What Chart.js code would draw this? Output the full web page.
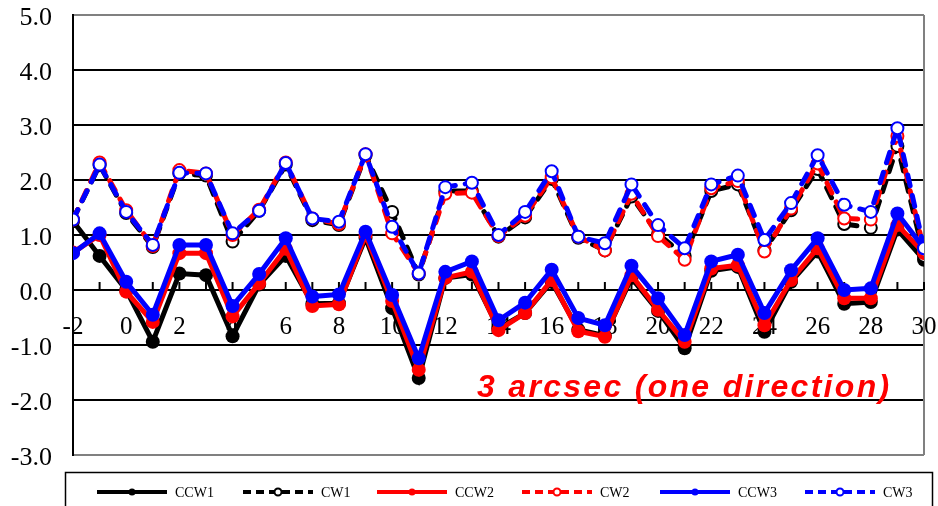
<!DOCTYPE html>
<html>
<head>
<meta charset="utf-8">
<script src="https://cdn.jsdelivr.net/npm/chart.js@4.4.1/dist/chart.umd.min.js"></script>
<style>
    html, body { margin: 0; padding: 0; background: #fff; }
    #wrap { width: 938px; height: 506px; }
</style>
</head>
<body>
<div id="wrap"><canvas id="offset-chart" width="938" height="506"></canvas></div>
<script>
// x positions of the measurements
const positions = [-2, -1, 0, 1, 2, 3, 4, 5, 6, 7, 8, 9, 10, 11, 12, 13, 14, 15, 16,
    17, 18, 19, 20, 21, 22, 23, 24, 25, 26, 27, 28, 29, 30];

const ccw1 = [1.25, 0.62, 0.00, -0.94, 0.30, 0.27, -0.84, 0.10, 0.62, -0.25, -0.24, 0.95, -0.33,
    -1.60, 0.22, 0.28, -0.70, -0.42, 0.15, -0.72, -0.83, 0.22, -0.38, -1.06, 0.35, 0.42,
    -0.76, 0.15, 0.70, -0.25, -0.22, 1.10, 0.55];
const cw1 = [1.28, 2.27, 1.40, 0.78, 2.12, 2.08, 0.88, 1.44, 2.28, 1.27, 1.18, 2.45, 1.42,
    0.28, 1.80, 1.80, 0.97, 1.32, 2.02, 0.95, 0.72, 1.70, 1.02, 0.62, 1.80, 1.92,
    0.72, 1.45, 2.20, 1.20, 1.13, 2.62, 0.62];
const ccw2 = [0.68, 1.00, -0.03, -0.58, 0.67, 0.67, -0.48, 0.12, 0.75, -0.29, -0.26, 1.00, -0.20,
    -1.45, 0.22, 0.33, -0.73, -0.42, 0.18, -0.75, -0.85, 0.27, -0.36, -0.94, 0.39, 0.45,
    -0.64, 0.18, 0.76, -0.15, -0.15, 1.18, 0.67];
const cw2 = [1.28, 2.32, 1.45, 0.80, 2.18, 2.12, 1.00, 1.46, 2.32, 1.30, 1.20, 2.47, 1.03,
    0.30, 1.75, 1.77, 0.98, 1.35, 2.05, 0.97, 0.72, 1.75, 0.98, 0.55, 1.85, 1.98,
    0.70, 1.48, 2.30, 1.30, 1.28, 2.80, 0.72];
const ccw3 = [0.67, 1.03, 0.15, -0.45, 0.82, 0.82, -0.29, 0.29, 0.94, -0.12, -0.08, 1.06, -0.09,
    -1.24, 0.33, 0.52, -0.55, -0.23, 0.37, -0.51, -0.64, 0.44, -0.15, -0.82, 0.52, 0.64,
    -0.42, 0.36, 0.94, 0.00, 0.03, 1.39, 0.76];
const cw3 = [1.28, 2.28, 1.42, 0.82, 2.13, 2.12, 1.03, 1.44, 2.31, 1.30, 1.24, 2.47, 1.15,
    0.30, 1.87, 1.95, 1.00, 1.42, 2.16, 0.97, 0.85, 1.92, 1.18, 0.76, 1.92, 2.08,
    0.91, 1.58, 2.45, 1.55, 1.42, 2.94, 0.76];

const seriesLabels = ['CCW1', 'CW1', 'CCW2', 'CW2', 'CCW3', 'CW3'];
const yTicks = [-3, -2, -1, 0, 1, 2, 3, 4, 5];
const noteText = '3 arcsec (one direction)';

const canvas = document.getElementById('offset-chart');

function toPoints(values) {
    return values.map((v, i) => ({ x: positions[i], y: v }));
}

function solidSet(label, values, color, order) {
    return {
        label: label,
        data: toPoints(values),
        borderColor: color,
        backgroundColor: color,
        borderWidth: 5,
        pointRadius: 7,
        pointBorderWidth: 0,
        pointBackgroundColor: color,
        borderJoinStyle: 'miter',
        tension: 0,
        order: order
    };
}

function dashedSet(label, values, color, order) {
    return {
        label: label,
        data: toPoints(values),
        borderColor: color,
        backgroundColor: '#fff',
        borderWidth: 5,
        borderDash: [11, 10],
        borderCapStyle: 'round',
        pointRadius: 6,
        pointBorderWidth: 2,
        pointBorderColor: color,
        pointBackgroundColor: '#fff',
        tension: 0,
        order: order
    };
}

const datasets = [
    solidSet(seriesLabels[0], ccw1, '#000000', 5),
    dashedSet(seriesLabels[1], cw1, '#000000', 4),
    solidSet(seriesLabels[2], ccw2, '#ff0000', 3),
    dashedSet(seriesLabels[3], cw2, '#ff0000', 2),
    solidSet(seriesLabels[4], ccw3, '#0000ff', 1),
    dashedSet(seriesLabels[5], cw3, '#0000ff', 0)
];

// frame, axis ticks, legend box and the red note
const decorations = {
    id: 'decorations',
    beforeDatasetsDraw(chart) {
        const ctx = chart.ctx;
        const area = chart.chartArea;
        const xs = chart.scales.x;
        const ys = chart.scales.y;
        ctx.save();
        ctx.strokeStyle = '#808080';
        ctx.lineWidth = 2;
        ctx.beginPath();
        ctx.moveTo(area.right, area.top);
        ctx.lineTo(area.right, area.bottom);
        ctx.stroke();
        // tick marks on the zero line
        const y0 = ys.getPixelForValue(0);
        ctx.strokeStyle = '#000';
        ctx.lineWidth = 2;
        for (let v = xs.min; v <= xs.max; v++) {
            const px = xs.getPixelForValue(v);
            ctx.beginPath();
            ctx.moveTo(px, y0 - 8);
            ctx.lineTo(px, y0);
            ctx.stroke();
        }
        ctx.restore();
    },
    afterDraw(chart) {
        const ctx = chart.ctx;
        ctx.save();
        // legend
        ctx.strokeStyle = '#000';
        ctx.lineWidth = 1.5;
        ctx.strokeRect(65.5, 472.5, 867, 60);
        const starts = [97, 243, 377, 522, 660, 805];
        const legendY = 492;
        chart.data.datasets.forEach((ds, i) => {
            const x0 = starts[i];
            const dashed = ds.borderDash && ds.borderDash.length;
            ctx.strokeStyle = ds.borderColor;
            ctx.lineWidth = 4;
            ctx.setLineDash(dashed ? [8, 5] : []);
            ctx.lineCap = 'butt';
            ctx.beginPath();
            ctx.moveTo(x0, legendY);
            ctx.lineTo(x0 + 70, legendY);
            ctx.stroke();
            ctx.setLineDash([]);
            ctx.beginPath();
            ctx.arc(x0 + 35, legendY, 3.5, 0, Math.PI * 2);
            if (dashed) {
                ctx.fillStyle = '#fff';
                ctx.fill();
                ctx.lineWidth = 2;
                ctx.stroke();
            } else {
                ctx.fillStyle = ds.borderColor;
                ctx.fill();
            }
            ctx.fillStyle = '#000';
            ctx.font = '14px "Liberation Serif"';
            ctx.textAlign = 'left';
            ctx.textBaseline = 'middle';
            ctx.fillText(ds.label, x0 + 78, legendY + 1);
        });
        // note
        ctx.fillStyle = '#ff0000';
        ctx.font = 'italic bold 32px "Liberation Sans"';
        ctx.letterSpacing = '2.3px';
        ctx.textAlign = 'left';
        ctx.textBaseline = 'alphabetic';
        ctx.fillText(noteText, 477, 397);
        ctx.restore();
    }
};

const offsetChart = new Chart(canvas, {
    type: 'line',
    data: { datasets: datasets },
    options: {
        responsive: false,
        animation: false,
        layout: {
            padding: { left: 0, right: 14, top: 15, bottom: 51 }
        },
        plugins: {
            legend: { display: false },
            tooltip: { enabled: false }
        },
        scales: {
            x: {
                type: 'linear',
                position: { y: 0 },
                min: -2,
                max: 30,
                afterFit(scale) {
                    scale.paddingLeft = 0;
                    scale.paddingRight = 0;
                },
                grid: { display: false, drawTicks: false },
                border: { display: true, color: '#000', width: 2 },
                ticks: {
                    stepSize: 2,
                    padding: 22,
                    color: '#000',
                    maxRotation: 0,
                    font: { family: 'Liberation Serif', size: 25 }
                }
            },
            y: {
                type: 'linear',
                min: yTicks[0],
                max: yTicks[yTicks.length - 1],
                afterFit(scale) {
                    scale.width = 73;
                    scale.paddingTop = 0;
                    scale.paddingBottom = 0;
                },
                afterBuildTicks(scale) { scale.ticks = yTicks.map(v => ({ value: v })); },
                grid: {
                    drawTicks: false,
                    lineWidth: 2,
                    color: ctx => (ctx.tick && (ctx.tick.value === 5 || ctx.tick.value === -3)) ? '#808080' : '#000'
                },
                border: { display: true, color: '#000', width: 2 },
                ticks: {
                    padding: 21,
                    labelOffset: 3,
                    color: '#000',
                    font: { family: 'Liberation Serif', size: 26 },
                    callback: v => v.toFixed(1)
                }
            }
        }
    },
    plugins: [decorations]
});
</script>
</body>
</html>
